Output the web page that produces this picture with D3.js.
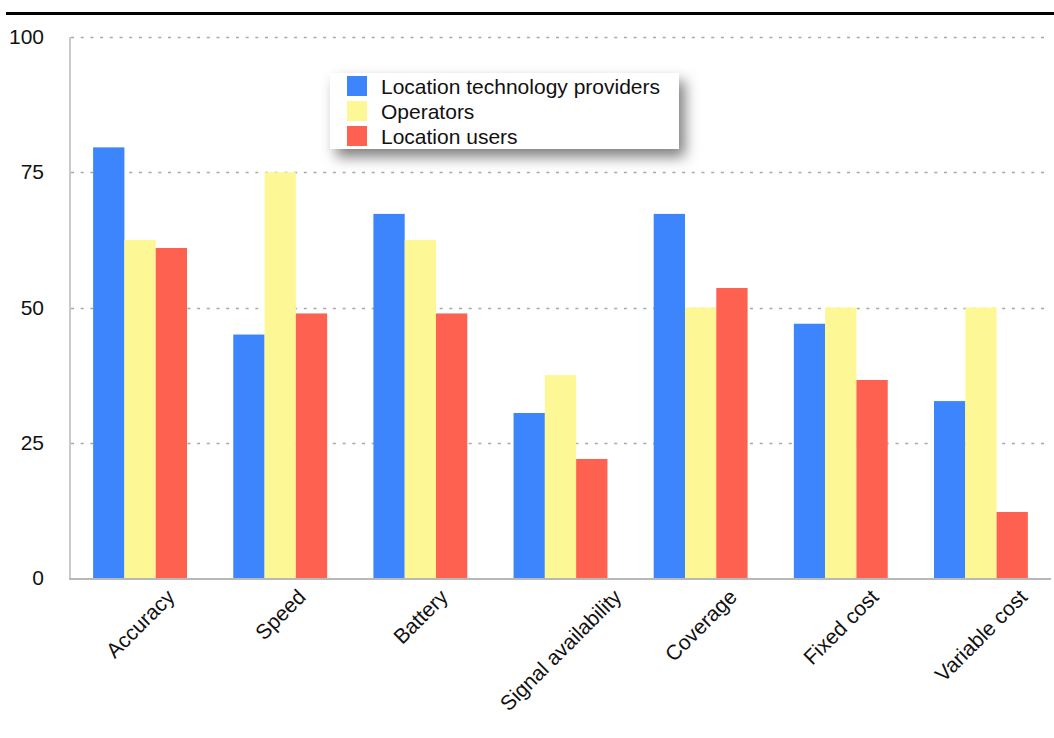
<!DOCTYPE html>
<html>
<head>
<meta charset="utf-8">
<script src="https://cdn.jsdelivr.net/npm/d3@7"></script>
<style>
  html, body { margin: 0; padding: 0; background: #fff; }
  svg { display: block; font-family: "Liberation Sans", Arial, Helvetica, sans-serif; }
</style>
</head>
<body>
<svg id="chart" width="1054" height="738"></svg>
<script>
// Survey scores per factor, by respondent group
const categories = ["Accuracy", "Speed", "Battery", "Signal availability", "Coverage", "Fixed cost", "Variable cost"];
const seriesNames = ["Location technology providers", "Operators", "Location users"];
const providers = [79.6, 45, 67.3, 30.5, 67.3, 47, 32.7];
const operators = [62.5, 75, 62.5, 37.5, 50, 50, 50];
const users = [61, 48.9, 48.9, 22, 53.6, 36.6, 12.2];
const yTicks = [0, 25, 50, 75, 100];
const colors = ["#3c85fd", "#fdf895", "#fe6150"];

const seriesValues = [providers, operators, users];
const rows = categories.map((c, i) => ({
  category: c,
  values: seriesNames.map((s, k) => ({ series: s, value: seriesValues[k][i] }))
}));

const svg = d3.select("#chart");
const plotLeft = 70, plotRight = 1051, plotTop = 37, plotBottom = 578;

const x0 = d3.scaleBand().domain(categories).range([plotLeft, plotRight])
  .paddingInner(0.33).paddingOuter(0.165);
const x1 = d3.scaleBand().domain(seriesNames).range([0, x0.bandwidth()]);
const y = d3.scaleLinear().domain([0, 100]).range([plotBottom, plotTop]);
const color = d3.scaleOrdinal().domain(seriesNames).range(colors);

// heavy rule across the top
svg.append("line")
  .attr("x1", 6).attr("x2", 1054).attr("y1", 13.5).attr("y2", 13.5)
  .attr("stroke", "#000").attr("stroke-width", 3);

// dotted horizontal gridlines
svg.append("g")
  .selectAll("line")
  .data(yTicks.filter(t => t > 0))
  .join("line")
  .attr("x1", plotLeft + 1).attr("x2", plotRight - 2)
  .attr("y1", d => Math.round(y(d)) + 0.5).attr("y2", d => Math.round(y(d)) + 0.5)
  .attr("stroke", "#a8a8a8").attr("stroke-width", 1.6)
  .attr("stroke-dasharray", "3,6.7");

// y tick labels
const yAxis = d3.axisLeft(y).tickValues(yTicks).tickSize(0).tickPadding(26);
const gy = svg.append("g").attr("transform", `translate(${plotLeft},0)`).call(yAxis);
gy.select(".domain").remove();
gy.selectAll("text")
  .attr("font-size", 21).attr("fill", "#111")
  .attr("font-family", "Liberation Sans, Arial, sans-serif");

// bars
svg.append("g")
  .selectAll("g")
  .data(rows)
  .join("g")
  .attr("transform", d => `translate(${x0(d.category)},0)`)
  .selectAll("rect")
  .data(d => d.values)
  .join("rect")
  .attr("x", d => x1(d.series))
  .attr("width", x1.bandwidth())
  .attr("y", d => y(d.value))
  .attr("height", d => y(0) - y(d.value))
  .attr("fill", d => color(d.series));

// axis lines
svg.append("line")
  .attr("x1", plotLeft).attr("x2", plotLeft).attr("y1", plotTop).attr("y2", plotBottom + 1.5)
  .attr("stroke", "#c4c4c4").attr("stroke-width", 1.8);
svg.append("line")
  .attr("x1", plotLeft - 1).attr("x2", plotRight).attr("y1", plotBottom + 1).attr("y2", plotBottom + 1)
  .attr("stroke", "#b8b8b8").attr("stroke-width", 2);

// rotated category labels, centred under each group
const labelEndY = 593;
svg.append("g")
  .selectAll("text")
  .data(categories)
  .join("text")
  .attr("font-size", 21).attr("fill", "#111")
  .attr("text-anchor", "end")
  .attr("dominant-baseline", "central")
  .text(d => d)
  .attr("transform", function (d) {
    const len = this.getComputedTextLength();
    const cx = x0(d) + x0.bandwidth() / 2;
    return `translate(${cx + len * Math.SQRT1_2 / 2},${labelEndY}) rotate(-45)`;
  });

// legend with soft drop shadow
const defs = svg.append("defs");
const f = defs.append("filter").attr("id", "legendShadow")
  .attr("x", "-15%").attr("y", "-30%").attr("width", "140%").attr("height", "190%");
f.append("feDropShadow").attr("dx", 6).attr("dy", 8).attr("stdDeviation", 7)
  .attr("flood-color", "#000").attr("flood-opacity", 0.5);

const legend = svg.append("g").attr("transform", "translate(330,73)");
legend.append("rect")
  .attr("width", 349).attr("height", 76)
  .attr("fill", "#fff").attr("filter", "url(#legendShadow)");
const items = legend.selectAll("g.item")
  .data(seriesNames)
  .join("g").attr("class", "item")
  .attr("transform", (d, i) => `translate(17,${3 + i * 25})`);
items.append("rect").attr("width", 20).attr("height", 20).attr("fill", d => color(d));
items.append("text")
  .attr("x", 34).attr("y", 10)
  .attr("dominant-baseline", "central")
  .attr("font-size", 21).attr("fill", "#111")
  .text(d => d);
</script>
</body>
</html>
